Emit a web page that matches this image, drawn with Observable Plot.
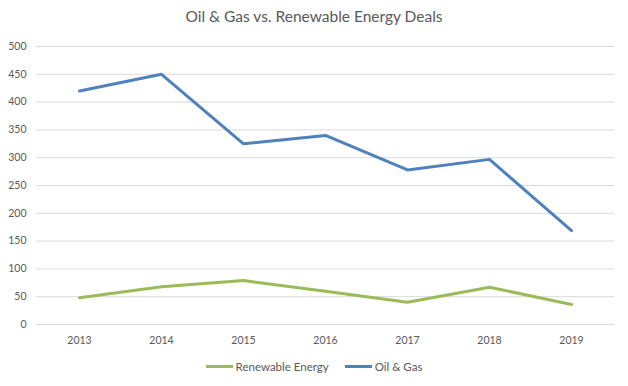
<!DOCTYPE html>
<html>
<head>
<meta charset="utf-8">
<script src="https://cdn.jsdelivr.net/npm/d3@7"></script>
<script src="https://cdn.jsdelivr.net/npm/@observablehq/plot@0.6"></script>
<style>
  html, body { margin: 0; padding: 0; background: #fff; }
  body { width: 628px; height: 386px; overflow: hidden; font-family: Lato, "Open Sans", sans-serif; color: #595959; }
  #title { height: 40px; line-height: 33px; text-align: center; font-size: 15.5px; color: #595959; }
  #legend { height: 13px; display: flex; justify-content: center; align-items: center; font-size: 11.5px; color: #595959; gap: 16px; }
  .item { display: flex; align-items: center; }
  .sw { display: inline-block; width: 27px; height: 3px; margin-right: 3px; }
</style>
</head>
<body>
<div id="title">Oil &amp; Gas vs. Renewable Energy Deals</div>
<div id="chart"></div>
<div id="legend"></div>
<script>
const years = ["2013", "2014", "2015", "2016", "2017", "2018", "2019"];
const oilGas = [420, 450, 325, 340, 278, 297, 169];
const renewable = [48, 68, 79, 60, 40, 67, 36];
const yTicks = [0, 50, 100, 150, 200, 250, 300, 350, 400, 450, 500];
const seriesNames = ["Renewable Energy", "Oil & Gas"];
const seriesColors = ["#9BBB59", "#4F81BD"];

const rows = [];
years.forEach((y, i) => {
  rows.push({year: y, value: renewable[i], series: seriesNames[0]});
  rows.push({year: y, value: oilGas[i], series: seriesNames[1]});
});

const chart = Plot.plot({
  width: 628,
  height: 320,
  marginTop: 6,
  marginBottom: 36,
  marginLeft: 36,
  marginRight: 14,
  style: {fontFamily: "Lato, 'Open Sans', sans-serif", fontSize: "10.5px", color: "#595959", background: "#fff"},
  x: {type: "point", domain: years, padding: 0.5, label: null},
  y: {domain: [0, 500], label: null},
  color: {domain: seriesNames, range: seriesColors},
  marks: [
    Plot.ruleY(yTicks, {stroke: "#d9d9d9", strokeWidth: 1}),
    Plot.axisY({ticks: yTicks, tickSize: 0, tickPadding: 10, label: null, fill: "#595959"}),
    Plot.axisX({tickSize: 0, tickPadding: 12, label: null, fill: "#595959"}),
    Plot.line(rows, {x: "year", y: "value", z: "series", stroke: "series", strokeWidth: 3, strokeLinejoin: "round", strokeLinecap: "round"})
  ]
});
document.getElementById("chart").appendChild(chart);

const legend = document.getElementById("legend");
seriesNames.forEach((name, i) => {
  const it = document.createElement("div");
  it.className = "item";
  const sw = document.createElement("span");
  sw.className = "sw";
  sw.style.background = seriesColors[i];
  it.appendChild(sw);
  const t = document.createElement("span");
  t.textContent = name;
  it.appendChild(t);
  legend.appendChild(it);
});
</script>
</body>
</html>
